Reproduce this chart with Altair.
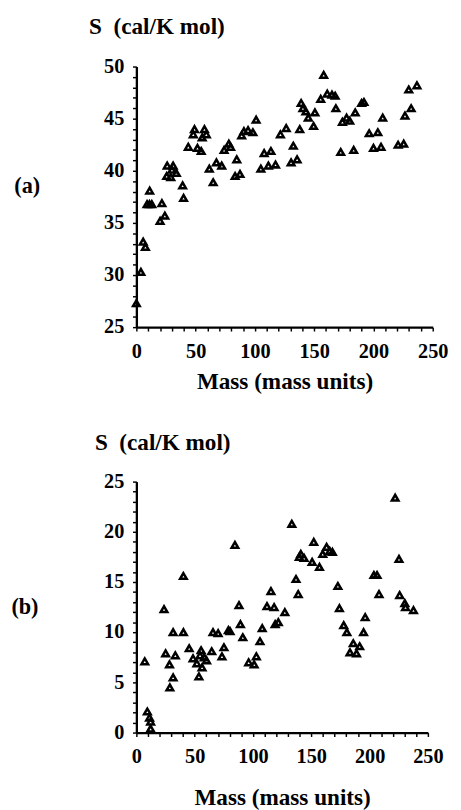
import altair as alt
import pandas as pd

# ---- panel (a) ----
mass_a = [0, 3.8, 5.7, 7.6, 9, 11, 13, 11.2, 20, 21.5, 24, 25.6, 26, 29, 30, 31, 33.7, 39, 39.8,
          43.8, 48, 49, 51.5, 54.7, 55.5, 57.4, 59, 61.5, 64.8, 67.5, 72, 74, 78, 79.5, 83.3, 84.7,
          87.4, 88.8, 90.7, 94.2, 98.3, 101, 105, 107.8, 111.4, 113.5, 117.4, 121.5, 126.4, 130.5,
          132.4, 135.6, 137.8, 139, 140.5, 143, 145, 149.5, 150.6, 155.5, 158, 161, 165, 167.7,
          168.3, 172.4, 173.8, 177.3, 180, 183.3, 184.6, 190, 192, 196.4, 200, 203.7, 206.4, 207.8,
          220.8, 225.5, 226.6, 229.8, 231.8, 236.7]
s_a = [27.3, 30.3, 33.2, 32.7, 36.8, 36.8, 36.8, 38.1, 35.2, 36.9, 35.7, 39.5, 40.5, 39.4, 40.1, 40.5, 39.8, 38.6, 37.4,
       42.3, 43.5, 44.0, 42.2, 41.9, 43.2, 44.0, 43.5, 40.2, 38.9, 40.8, 40.5, 42.0, 42.6, 42.3, 39.5, 41.1,
       39.7, 43.4, 43.8, 43.9, 43.7, 44.9, 40.2, 41.7, 40.5, 41.9, 40.6, 43.5, 44.1, 40.8,
       42.4, 41.1, 44.0, 46.5, 46.0, 45.7, 45.1, 44.3, 45.6, 46.9, 49.2, 47.4, 47.3, 47.2,
       46.0, 41.8, 44.7, 45.1, 44.8, 42.0, 45.6, 46.5, 46.6, 43.6, 42.2, 43.7, 42.3, 45.1,
       42.5, 42.6, 45.3, 47.8, 46.0, 48.2]

# ---- panel (b) ----
mass_b = [7.2, 9.4, 11.3, 12.2, 12.2, 23.7, 25.1, 28.4, 31.5, 28.7, 31.5, 33.4, 40.3, 40.3, 45.3, 48.6,
          51.9, 53.6, 55.5, 54.6, 58.2, 60.2, 56.3, 64.6, 65.7, 70.1, 73.4, 75.1, 78.9, 84.5, 88, 80.3,
          89.2, 91.3, 96.3, 101, 102.9, 106, 107.9, 115.4, 112, 118.1, 119, 121.7, 127.3, 133.3, 136.9,
          138.8, 139.7, 141, 143.8, 152.1, 150.7, 157, 159.8, 163.1, 165.8, 168.1, 172.8, 174.1, 177.8,
          180.5, 186, 191.5, 183.2, 188.8, 194.8, 196.2, 203.7, 206.4, 208.1, 221.9, 225.2, 225.8,
          230.2, 230.8, 237.6]
s_b = [7.1, 2.1, 1.5, 1.1, 0.4, 12.3, 7.9, 6.8, 5.5, 4.5, 10.0, 7.7, 10.0, 15.6, 8.4, 7.4,
       6.9, 5.6, 8.2, 7.7, 7.5, 7.2, 6.5, 8.1, 10.0, 9.9, 7.6, 8.5, 10.2, 18.7, 12.7, 10.1,
       10.8, 9.5, 7.0, 6.8, 7.6, 9.1, 10.4, 14.1, 12.6, 12.5, 10.8, 11.0, 12.0, 20.8, 15.3,
       13.8, 17.5, 17.8, 17.4, 19.0, 17.0, 16.5, 17.8, 18.5, 18.1, 18.0, 14.6, 12.4, 10.7,
       10.0, 8.9, 8.6, 8.0, 7.9, 10.0, 11.5, 15.7, 15.7, 13.8, 23.4, 17.3, 13.7,
       12.9, 12.5, 12.2]

x_ticks = list(range(0, 251, 10))   # labelled every 50

FONT = "Liberation Serif"
Y_TITLE = "S\u2002(cal/K mol)"
X_TITLE = "Mass (mass units)"


def panel(mass, s, ydom, w, h, tag, tag_x, tag_y, x_title_pad, title_dx, title_off):
    df = pd.DataFrame({"mass": mass, "S": s})
    y_ticks = list(range(ydom[0], ydom[1] + 1))
    xaxis = alt.Axis(
        values=x_ticks, labelExpr="datum.value % 50 == 0 ? datum.label : ''",
        title=X_TITLE, domain=True, domainColor="#000000", domainWidth=2.4,
        ticks=True, tickColor="#000000", tickWidth=1.5, tickSize=4, grid=False, labelPadding=10,
        labelFont=FONT, labelFontSize=21, labelFontWeight="bold", labelColor="black",
        titleFont=FONT, titleFontSize=24, titleFontWeight="bold", titleColor="black",
        titlePadding=x_title_pad, labelFlush=False, labelOverlap=False)
    yaxis = alt.Axis(
        values=y_ticks, labelExpr="datum.value % 5 == 0 ? datum.label : ''",
        title=tag, titleAngle=0, titleAlign="left", titleBaseline="middle",
        titleX=tag_x, titleY=tag_y, domain=True, domainColor="#000000", domainWidth=2.4,
        ticks=True, tickColor="#000000", tickWidth=1.5, tickSize=4, grid=False, labelPadding=9,
        labelFont=FONT, labelFontSize=21, labelFontWeight="bold", labelColor="black",
        titleFont=FONT, titleFontSize=23, titleFontWeight="bold", titleColor="black",
        labelFlush=False, labelOverlap=False)
    return alt.Chart(df).mark_point(
        shape="triangle-up", filled=False, color="black", strokeWidth=2.6, size=46, opacity=1, clip=False
    ).encode(
        x=alt.X("mass:Q", scale=alt.Scale(domain=[0, 250], nice=False, zero=False), axis=xaxis),
        y=alt.Y("S:Q", scale=alt.Scale(domain=ydom, nice=False, zero=False), axis=yaxis),
    ).properties(
        width=w, height=h,
        title=alt.TitleParams(Y_TITLE, anchor="start", frame="group", dx=title_dx, offset=title_off,
                              font=FONT, fontSize=24, fontWeight="bold", color="black"),
    )


top = panel(mass_a, s_a, [25, 50], 307, 270, "(a)", -127, 123, 10, -49, 18)
bottom = panel(mass_b, s_b, [0, 25], 302, 260, "(b)", -130, 130, 20, -43, 17)

chart = alt.vconcat(top, bottom, spacing=39).configure(
    background="white", padding={"left": 3, "top": -7, "right": 5, "bottom": 0}
).configure_view(stroke=None)

chart.save("out.html", embed_options={"renderer": "svg", "actions": False})
